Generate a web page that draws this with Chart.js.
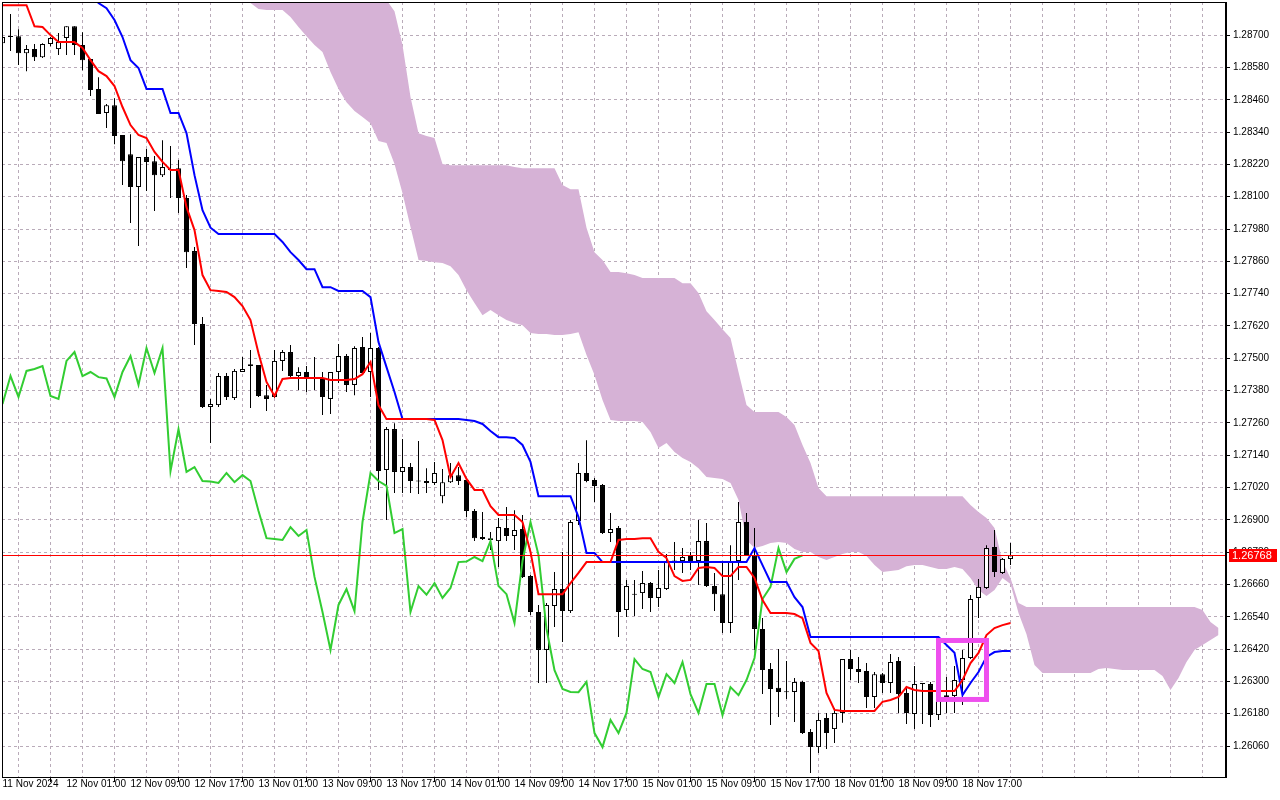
<!DOCTYPE html>
<html><head><meta charset="utf-8">
<script src="https://cdn.jsdelivr.net/npm/chart.js@4.4.0/dist/chart.umd.min.js"></script>
<style>html,body{margin:0;padding:0;background:#fff;overflow:hidden}#wrap{width:1280px;height:800px}</style>
</head><body><div id="wrap"><canvas id="c" width="1280" height="800"></canvas></div>
<script>
// ---- Hourly candles (index 0 = 11 Nov 2024 17:00) ----
const opens=[1.28670,1.28693,1.28696,1.28633,1.28648,1.28618,1.28667,1.28648,1.28689,1.28733,
1.28663,1.28611,1.28500,1.28411,1.28440,1.28329,1.28258,1.28136,1.28247,1.28232,
1.28180,1.28203,1.28206,1.28095,1.27898,1.27627,1.27319,1.27326,1.27434,1.27352,
1.27449,1.27478,1.27475,1.27363,1.27356,1.27490,1.27523,1.27434,1.27449,1.27427,
1.27427,1.27349,1.27449,1.27508,1.27401,1.27542,1.27449,1.27538,1.27085,1.27237,
1.27078,1.27096,1.27044,1.27044,1.27037,1.26988,1.27040,1.27066,1.27048,1.26933,
1.26836,1.26832,1.26821,1.26870,1.26840,1.26866,1.26691,1.26558,1.26417,1.26580,
1.26643,1.26561,1.26896,1.27074,1.27048,1.27029,1.26851,1.26870,1.26565,1.26624,
1.26628,1.26665,1.26610,1.26643,1.26747,1.26747,1.26766,1.26747,1.26821,1.26654,
1.26624,1.26517,1.26747,1.26892,1.26769,1.26495,1.26346,1.26276,1.26261,1.26261,
1.26298,1.26112,1.26056,1.26164,1.26123,1.26183,1.26383,1.26346,1.26339,1.26242,
1.26327,1.26294,1.26376,1.26257,1.26179,1.26294,1.26290,1.26175,1.26242,1.26246,
1.26305,1.26387,1.26610,1.26647,1.26799,1.26703,1.26755];
const highs=[1.28700,1.28778,1.28722,1.28663,1.28667,1.28670,1.28693,1.28708,1.28733,1.28733,
1.28711,1.28611,1.28544,1.28444,1.28466,1.28329,1.28332,1.28247,1.28277,1.28251,
1.28310,1.28288,1.28236,1.28106,1.27913,1.27653,1.27349,1.27445,1.27445,1.27460,
1.27505,1.27531,1.27475,1.27401,1.27531,1.27531,1.27549,1.27467,1.27471,1.27505,
1.27449,1.27449,1.27553,1.27516,1.27545,1.27579,1.27594,1.27542,1.27245,1.27259,
1.27200,1.27111,1.27193,1.27092,1.27115,1.27089,1.27111,1.27096,1.27052,1.26940,
1.26929,1.26855,1.26907,1.26948,1.26936,1.26918,1.26695,1.26584,1.26591,1.26706,
1.26781,1.26899,1.27111,1.27196,1.27055,1.27033,1.26925,1.26877,1.26677,1.26677,
1.26710,1.26669,1.26714,1.26773,1.26818,1.26795,1.26781,1.26899,1.26888,1.26703,
1.26740,1.26806,1.26966,1.26925,1.26870,1.26535,1.26368,1.26420,1.26376,1.26313,
1.26302,1.26123,1.26183,1.26183,1.26201,1.26383,1.26417,1.26391,1.26368,1.26335,
1.26331,1.26402,1.26391,1.26279,1.26357,1.26294,1.26298,1.26279,1.26316,1.26357,
1.26417,1.26621,1.26680,1.26806,1.26862,1.26758,1.26814];
const lows=[1.28663,1.28641,1.28589,1.28566,1.28604,1.28615,1.28659,1.28626,1.28626,1.28626,
1.28570,1.28474,1.28407,1.28355,1.28295,1.28143,1.28002,1.27917,1.28121,1.28047,
1.28173,1.28095,1.28039,1.27835,1.27549,1.27315,1.27185,1.27319,1.27345,1.27345,
1.27449,1.27315,1.27356,1.27304,1.27352,1.27453,1.27430,1.27382,1.27375,1.27382,
1.27289,1.27293,1.27408,1.27375,1.27363,1.27441,1.27356,1.27011,1.26899,1.27000,
1.27000,1.27000,1.26996,1.27000,1.27029,1.26962,1.27037,1.27029,1.26910,1.26821,
1.26825,1.26788,1.26725,1.26821,1.26788,1.26684,1.26547,1.26294,1.26294,1.26502,
1.26446,1.26554,1.26881,1.27040,1.26966,1.26847,1.26818,1.26465,1.26539,1.26543,
1.26569,1.26558,1.26576,1.26639,1.26714,1.26703,1.26714,1.26658,1.26651,1.26561,
1.26480,1.26480,1.26677,1.26766,1.26417,1.26253,1.26138,1.26168,1.26235,1.26149,
1.26105,1.25960,1.26034,1.26049,1.26071,1.26146,1.26305,1.26294,1.26201,1.26201,
1.26257,1.26257,1.26183,1.26142,1.26123,1.26142,1.26131,1.26157,1.26183,1.26183,
1.26212,1.26383,1.26535,1.26643,1.26688,1.26699,1.26732];
const closes=[1.28693,1.28696,1.28633,1.28648,1.28618,1.28667,1.28689,1.28674,1.28733,1.28663,
1.28607,1.28496,1.28407,1.28440,1.28325,1.28232,1.28136,1.28247,1.28229,1.28180,
1.28210,1.28199,1.28095,1.27894,1.27627,1.27319,1.27330,1.27434,1.27356,1.27453,
1.27460,1.27471,1.27360,1.27349,1.27490,1.27523,1.27434,1.27449,1.27430,1.27425,
1.27356,1.27449,1.27508,1.27401,1.27538,1.27445,1.27538,1.27081,1.27237,1.27078,
1.27096,1.27044,1.27042,1.27037,1.27074,1.27040,1.27066,1.27044,1.26933,1.26832,
1.26829,1.26825,1.26873,1.26840,1.26862,1.26688,1.26558,1.26417,1.26584,1.26643,
1.26561,1.26892,1.27074,1.27044,1.27026,1.26851,1.26866,1.26558,1.26654,1.26622,
1.26665,1.26610,1.26647,1.26743,1.26745,1.26762,1.26747,1.26821,1.26654,1.26624,
1.26517,1.26747,1.26892,1.26769,1.26495,1.26342,1.26272,1.26261,1.26260,1.26298,
1.26108,1.26056,1.26157,1.26108,1.26183,1.26383,1.26346,1.26335,1.26242,1.26327,
1.26294,1.26372,1.26253,1.26183,1.26290,1.26290,1.26175,1.26279,1.26249,1.26305,
1.26387,1.26606,1.26651,1.26795,1.26706,1.26755,1.26768];

// ---- Ichimoku lines ----
const tenkan=[1.28811,1.28811,1.28811,1.28811,1.28733,1.28730,1.28700,1.28674,1.28674,1.28674,
1.28652,1.28607,1.28566,1.28548,1.28511,1.28433,1.28366,1.28329,1.28318,1.28266,
1.28229,1.28199,1.28199,1.28061,1.27976,1.27809,1.27753,1.27750,1.27746,1.27727,
1.27694,1.27642,1.27519,1.27412,1.27360,1.27423,1.27427,1.27427,1.27427,1.27427,
1.27427,1.27419,1.27419,1.27419,1.27423,1.27441,1.27486,1.27326,1.27274,1.27274,
1.27274,1.27274,1.27274,1.27274,1.27271,1.27196,1.27059,1.27111,1.27052,1.27011,
1.27011,1.26951,1.26918,1.26918,1.26918,1.26892,1.26781,1.26624,1.26624,1.26624,
1.26624,1.26665,1.26703,1.26743,1.26743,1.26743,1.26743,1.26825,1.26829,1.26829,
1.26832,1.26832,1.26781,1.26758,1.26691,1.26673,1.26677,1.26721,1.26725,1.26721,
1.26691,1.26691,1.26725,1.26725,1.26684,1.26602,1.26554,1.26554,1.26554,1.26550,
1.26535,1.26443,1.26413,1.26257,1.26194,1.26190,1.26190,1.26190,1.26190,1.26190,
1.26224,1.26231,1.26242,1.26279,1.26268,1.26264,1.26264,1.26264,1.26264,1.26264,
1.26305,1.26368,1.26406,1.26472,1.26498,1.26509,1.26517];
const kijun=[1.28880,1.28880,1.28880,1.28880,1.28880,1.28880,1.28880,1.28880,1.28880,1.28880,
1.28880,1.28860,1.28819,1.28800,1.28756,1.28693,1.28607,1.28578,1.28500,1.28500,
1.28500,1.28411,1.28411,1.28336,1.28180,1.28050,1.27985,1.27961,1.27961,1.27961,
1.27961,1.27961,1.27961,1.27961,1.27961,1.27932,1.27894,1.27865,1.27831,1.27831,
1.27764,1.27764,1.27750,1.27750,1.27750,1.27750,1.27727,1.27560,1.27467,1.27375,
1.27274,1.27274,1.27274,1.27274,1.27274,1.27274,1.27274,1.27274,1.27271,1.27267,
1.27256,1.27230,1.27207,1.27207,1.27204,1.27178,1.27115,1.26988,1.26988,1.26988,
1.26988,1.26988,1.26910,1.26777,1.26777,1.26743,1.26743,1.26743,1.26743,1.26743,
1.26743,1.26743,1.26743,1.26743,1.26743,1.26743,1.26743,1.26743,1.26743,1.26743,
1.26743,1.26743,1.26743,1.26743,1.26795,1.26732,1.26669,1.26669,1.26669,1.26613,
1.26576,1.26465,1.26465,1.26465,1.26465,1.26465,1.26465,1.26465,1.26465,1.26465,
1.26465,1.26465,1.26465,1.26465,1.26465,1.26465,1.26465,1.26465,1.26435,1.26406,
1.26249,1.26294,1.26335,1.26391,1.26409,1.26413,1.26413];
const chikouShift=26;
// cloud edges (153 points, incl. 26 projected forward)
const senkouA=[1.28950,1.28950,1.28950,1.28950,1.28950,1.28950,1.28950,1.28950,1.28950,1.28950,
1.28950,1.28950,1.28950,1.28950,1.28950,1.28950,1.28950,1.28950,1.28950,1.28950,
1.28950,1.28950,1.28950,1.28950,1.28950,1.28950,1.28950,1.28950,1.28950,1.28950,
1.28950,1.28950,1.28950,1.28950,1.28950,1.28950,1.28950,1.28950,1.28950,1.28950,
1.28950,1.28950,1.28950,1.28950,1.28950,1.28950,1.28950,1.28950,1.28830,1.28789,
1.28663,1.28470,1.28336,1.28325,1.28318,1.28221,1.28217,1.28217,1.28217,1.28217,
1.28217,1.28217,1.28217,1.28217,1.28210,1.28206,1.28206,1.28206,1.28206,1.28206,
1.28143,1.28128,1.28128,1.27985,1.27894,1.27865,1.27820,1.27820,1.27816,1.27809,
1.27798,1.27798,1.27798,1.27798,1.27798,1.27779,1.27779,1.27742,1.27675,1.27642,
1.27608,1.27575,1.27449,1.27326,1.27300,1.27300,1.27300,1.27300,1.27282,1.27252,
1.27178,1.27111,1.27018,1.26988,1.26988,1.26988,1.26988,1.26988,1.26988,1.26988,
1.26988,1.26988,1.26988,1.26988,1.26988,1.26988,1.26988,1.26988,1.26988,1.26988,
1.26988,1.26955,1.26929,1.26907,1.26870,1.26743,1.26684,1.26591,1.26576,1.26576,
1.26576,1.26576,1.26576,1.26576,1.26576,1.26576,1.26576,1.26576,1.26576,1.26576,
1.26576,1.26576,1.26576,1.26576,1.26576,1.26576,1.26576,1.26576,1.26576,1.26576,
1.26565,1.26521,1.26498];
const senkouB=[1.28900,1.28900,1.28900,1.28900,1.28900,1.28900,1.28900,1.28900,1.28900,1.28900,
1.28900,1.28900,1.28900,1.28900,1.28900,1.28900,1.28900,1.28900,1.28900,1.28900,
1.28900,1.28900,1.28900,1.28900,1.28900,1.28900,1.28900,1.28900,1.28900,1.28900,
1.28900,1.28819,1.28797,1.28793,1.28793,1.28793,1.28767,1.28730,1.28696,1.28663,
1.28637,1.28563,1.28500,1.28451,1.28418,1.28396,1.28373,1.28307,1.28299,1.28221,
1.28113,1.27987,1.27865,1.27861,1.27857,1.27854,1.27842,1.27809,1.27753,1.27705,
1.27660,1.27679,1.27660,1.27642,1.27631,1.27623,1.27594,1.27590,1.27590,1.27586,
1.27586,1.27590,1.27597,1.27512,1.27438,1.27345,1.27271,1.27267,1.27267,1.27267,
1.27263,1.27226,1.27167,1.27185,1.27152,1.27130,1.27115,1.27092,1.27059,1.27055,
1.27052,1.27037,1.26974,1.26825,1.26795,1.26803,1.26814,1.26818,1.26814,1.26792,
1.26781,1.26781,1.26762,1.26751,1.26762,1.26773,1.26781,1.26781,1.26766,1.26732,
1.26706,1.26710,1.26714,1.26728,1.26732,1.26732,1.26725,1.26717,1.26717,1.26725,
1.26717,1.26684,1.26639,1.26617,1.26639,1.26684,1.26662,1.26554,1.26475,1.26361,
1.26331,1.26331,1.26331,1.26331,1.26331,1.26331,1.26331,1.26346,1.26350,1.26346,
1.26342,1.26342,1.26342,1.26342,1.26342,1.26320,1.26268,1.26313,1.26372,1.26417,
1.26435,1.26454,1.26472];

// ---- axes ----
const xLabels=['11 Nov 2024','12 Nov 01:00','12 Nov 09:00','12 Nov 17:00','13 Nov 01:00','13 Nov 09:00',
'13 Nov 17:00','14 Nov 01:00','14 Nov 09:00','14 Nov 17:00','15 Nov 01:00','15 Nov 09:00',
'15 Nov 17:00','18 Nov 01:00','18 Nov 09:00','18 Nov 17:00'];
const barsPerLabel=8, barsPerGrid=4;
const yTicks=[1.28700,1.28580,1.28460,1.28340,1.28220,1.28100,1.27980,1.27860,1.27740,1.27620,
1.27500,1.27380,1.27260,1.27140,1.27020,1.26900,1.26780,1.26660,1.26540,1.26420,1.26300,1.26180,1.26060];
const yMin=1.25945, yMax=1.28823;
const lastPrice=1.26768;
const highlightBox={xMin:117, xMax:123, yMin:1.26233, yMax:1.26452};

const FONT="'Liberation Sans','DejaVu Sans',sans-serif";
const FSIZE=10;
const gridColor='#b9abb9';
const cloudColor='#d6b2d6';
const canvas=document.getElementById('c');
const ctx=canvas.getContext('2d');

const wickData=highs.map((h,i)=>({x:i,y:[lows[i],h]}));
const bodyData=opens.map((o,i)=>({x:i,y:[Math.min(o,closes[i]),Math.max(o,closes[i])]}));
const bodyColors=opens.map((o,i)=>closes[i]>=o?'#ffffff':'#000000');
const toXY=arr=>arr.map((v,i)=>({x:i,y:v}));
const chikouData=closes.slice(chikouShift).map((v,i)=>({x:i,y:v}));

const overlay={
  id:'overlay',
  afterDatasetsDraw(chart){
    const c=chart.ctx, xs=chart.scales.x, ys=chart.scales.y;
    c.save();
    const x1=xs.getPixelForValue(highlightBox.xMin), x2=xs.getPixelForValue(highlightBox.xMax);
    const y1=ys.getPixelForValue(highlightBox.yMax), y2=ys.getPixelForValue(highlightBox.yMin);
    c.strokeStyle='#ee4fee'; c.lineWidth=5;
    c.strokeRect(x1,y1,x2-x1,y2-y1);
    c.restore();
  },
  afterDraw(chart){
    const c=chart.ctx, a=chart.chartArea, ys=chart.scales.y;
    c.save();
    c.strokeStyle='#000'; c.lineWidth=1;
    c.strokeRect(a.left+0.5,a.top+0.5,a.right-a.left-1,a.bottom-a.top);
    const yp=Math.round(ys.getPixelForValue(lastPrice));
    c.fillStyle='#ff0000';
    c.fillRect(a.left+1,yp,a.right-a.left-2,1);
    c.fillRect(a.right+3,yp-6,48,13);
    c.fillStyle='#ffffff'; c.font='11px '+FONT; c.textBaseline='middle'; c.textAlign='left';
    c.fillText(lastPrice.toFixed(5),a.right+6,yp+1);
    c.restore();
  }
};
const noPad=s=>{s.paddingTop=0;s.paddingBottom=0;s.paddingLeft=0;s.paddingRight=0;};

new Chart(ctx,{
  type:'bar',
  data:{datasets:[
    {type:'line',label:'Senkou B',data:toXY(senkouB),borderColor:'rgba(0,0,0,0)',borderWidth:0,pointRadius:0,fill:false,order:10,clip:0},
    {type:'line',label:'Senkou A',data:toXY(senkouA),borderColor:'rgba(0,0,0,0)',borderWidth:0,pointRadius:0,fill:'-1',backgroundColor:cloudColor,order:9,clip:0},
    {type:'bar',label:'wick',data:wickData,backgroundColor:'#000',barThickness:1,grouped:false,inflateAmount:0,order:6,clip:0},
    {type:'bar',label:'body',data:bodyData,backgroundColor:bodyColors,borderColor:'#000',borderWidth:1,borderSkipped:false,barThickness:5,minBarLength:1,grouped:false,inflateAmount:0,order:5,clip:0},
    {type:'line',label:'Chikou',data:chikouData,borderColor:'#32cd32',borderWidth:2,pointRadius:0,tension:0,fill:false,order:3,clip:0},
    {type:'line',label:'Kijun',data:toXY(kijun),borderColor:'#0000ff',borderWidth:2,pointRadius:0,tension:0,fill:false,order:2,clip:0},
    {type:'line',label:'Tenkan',data:toXY(tenkan),borderColor:'#ff0000',borderWidth:2,pointRadius:0,tension:0,fill:false,order:1,clip:0}
  ]},
  options:{
    responsive:false,animation:false,devicePixelRatio:1,
    layout:{padding:{left:2,top:2,right:0,bottom:0}},
    plugins:{legend:{display:false},tooltip:{enabled:false}},
    scales:{
      x:{type:'linear',min:-0.0625,max:152.9375,offset:false,
        afterBuildTicks:s=>{const t=[];for(let v=0;v<=152;v+=barsPerGrid)t.push({value:v});s.ticks=t;},
        afterFit:s=>{s.height=23;noPad(s);},
        ticks:{autoSkip:false,maxRotation:0,minRotation:0,align:'start',padding:-4,color:'#000',font:{family:FONT,size:FSIZE},
          callback:v=>(v%barsPerLabel===0&&v/barsPerLabel<xLabels.length)?xLabels[v/barsPerLabel]:''},
        grid:{color:c=>(c.tick&&c.tick.value===0)?'rgba(0,0,0,0)':gridColor,lineWidth:1,tickLength:5,
          tickColor:c=>(c.tick&&c.tick.value%barsPerLabel===0&&c.tick.value/barsPerLabel<xLabels.length)?'#000':'rgba(0,0,0,0)'},
        border:{display:true,color:'#000',width:1,dash:[3,3]}
      },
      y:{position:'right',min:yMin,max:yMax,
        afterBuildTicks:s=>{s.ticks=yTicks.map(v=>({value:v}));},
        afterFit:s=>{s.width=54;noPad(s);},
        ticks:{autoSkip:false,padding:3,color:'#000',font:{family:FONT,size:FSIZE},callback:v=>v.toFixed(5)},
        grid:{color:gridColor,lineWidth:1,tickLength:4,tickColor:'#000'},
        border:{display:true,color:'#000',width:1,dash:[3,3]}
      }
    }
  },
  plugins:[overlay]
});
</script></body></html>
